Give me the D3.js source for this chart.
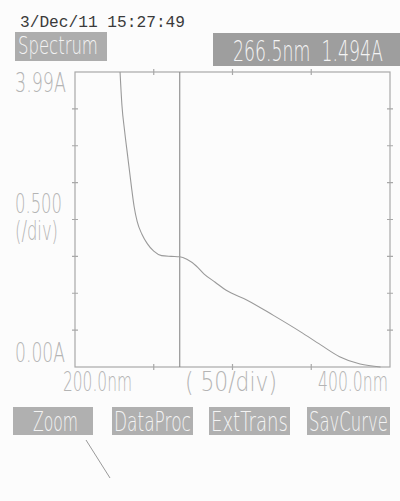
<!DOCTYPE html>
<html>
<head>
<meta charset="utf-8">
<script src="https://cdn.jsdelivr.net/npm/d3@7"></script>
<style>
  body { margin: 0; background: #fcfcfc; }
  svg { display: block; }
  .lbl { font-family: "DejaVu Sans", sans-serif; font-weight: 200; fill: #b4b4b4; white-space: pre; }
  .btn { font-family: "DejaVu Sans", sans-serif; font-weight: 200; fill: #f4f4f4; white-space: pre; }
</style>
</head>
<body>
<div id="wrapper"></div>
<script>
// spectrum, wavelength (nm) vs absorbance (A)
const wavelengths = [228.6, 229.8, 231.5, 233.5, 235.8, 237.5, 239.5, 242.5, 246, 250, 255, 261, 266.5,
                     271, 277, 282, 289, 296, 309, 326, 343, 356, 368, 381, 394]
const absorbance  = [4.00, 3.55, 3.20, 2.85, 2.45, 2.18, 1.97, 1.80, 1.67, 1.57, 1.51, 1.50, 1.494,
                     1.46, 1.37, 1.26, 1.15, 1.04, 0.91, 0.70, 0.48, 0.30, 0.14, 0.04, 0.00]
const xTicks = [250, 300, 350]
const yTicks = [0.5, 1, 1.5, 2, 2.5, 3, 3.5]
const cursorNm = 266.5
const stamp = "3/Dec/11 15:27:49"
const readout = "266.5nm  1.494A"
const buttons = ["Zoom", "DataProc", "ExtTrans", "SavCurve"]

const data = wavelengths.map((w, i) => ({w, a: absorbance[i]}))

let dimensions = {
    width: 400,
    height: 501,
    margin: {top: 72, right: 10, bottom: 134, left: 75},
}
dimensions.boundedWidth = dimensions.width - dimensions.margin.left - dimensions.margin.right
dimensions.boundedHeight = dimensions.height - dimensions.margin.top - dimensions.margin.bottom

const svg = d3.select("#wrapper")
              .append("svg")
              .attr("width", dimensions.width)
              .attr("height", dimensions.height)

const xScale = d3.scaleLinear()
                 .domain([200, 400])
                 .range([dimensions.margin.left, dimensions.margin.left + dimensions.boundedWidth])

const yScale = d3.scaleLinear()
                 .domain([0, 4])
                 .range([dimensions.margin.top + dimensions.boundedHeight, dimensions.margin.top])

const [x0, x1] = xScale.range()
const [y0, y1] = yScale.range()

// tall narrow instrument font: draw small, then stretch to the box it fills
// (several lines go in one text element as tspans)
const BASE = 14
function fitText(cls, x, baseline, w, cap, lines, lineGap) {
    lines = [].concat(lines)
    const el = svg.append("text").attr("class", cls)
                  .style("font-size", BASE + "px")
    const sy = cap / (0.73 * BASE)
    lines.forEach((t, i) => {
        el.append("tspan").attr("x", 0).attr("y", i * (lineGap || 0) / sy).text(t)
    })
    const len = d3.max(el.selectAll("tspan").nodes(), n => n.getComputedTextLength())
    const sx = w / len
    el.attr("transform", `translate(${x},${baseline}) scale(${sx},${sy})`)
    return el
}

// header
svg.append("text")
   .attr("x", 20).attr("y", 27)
   .attr("textLength", 165).attr("lengthAdjust", "spacingAndGlyphs")
   .style("font-family", "Liberation Mono, monospace")
   .style("font-size", "17px")
   .style("fill", "#3a3a3a")
   .text(stamp)

svg.append("rect").attr("x", 15).attr("y", 32).attr("width", 92).attr("height", 29).attr("fill", "#adadad")
fitText("btn", 18, 54, 80, 18, "Spectrum")

svg.append("rect").attr("x", 213).attr("y", 33).attr("width", 187).attr("height", 33).attr("fill", "#9e9e9e")
fitText("btn", 233, 61, 150, 21, readout)

// frame + ticks
const frame = svg.append("g").attr("stroke", "#a8a8a8").attr("stroke-width", 1.2).attr("fill", "none")
frame.append("rect").attr("x", x0).attr("y", y1).attr("width", x1 - x0).attr("height", y0 - y1)

frame.selectAll(".yt").data(yTicks).join("path")
     .attr("d", d => `M${x0 - 3},${yScale(d)}H${x0 + 3}M${x1 - 3},${yScale(d)}H${x1 + 3}`)
frame.selectAll(".xt").data(xTicks).join("path")
     .attr("d", d => `M${xScale(d)},${y1 - 3}V${y1 + 3}M${xScale(d)},${y0 - 3}V${y0 + 3}`)

// cursor
svg.append("line")
   .attr("x1", xScale(cursorNm)).attr("x2", xScale(cursorNm))
   .attr("y1", y1).attr("y2", y0)
   .attr("stroke", "#8a8a8a").attr("stroke-width", 1.1)

// curve
const line = d3.line()
               .x(d => xScale(d.w))
               .y(d => yScale(d.a))
               .curve(d3.curveMonotoneX)

svg.append("path")
   .datum(data)
   .attr("d", line)
   .attr("fill", "none")
   .attr("stroke", "#9a9a9a")
   .attr("stroke-width", 1.1)

// axis labels
fitText("lbl", 15, 92, 51, 19, "3.99A")
fitText("lbl", 15, 213, 47, 19, ["0.500", "(/div)"], 27)
fitText("lbl", 15, 362, 50, 19, "0.00A")
fitText("lbl", 63, 391, 69, 19, "200.0nm")
fitText("lbl", 185, 391, 92, 19, "( 50/div)")
fitText("lbl", 318, 391, 70, 19, "400.0nm")

// soft keys
const keyX = [13, 112, 209, 307]
const keyW = [80, 81, 81, 83]
const keys = svg.append("g")
keys.selectAll("rect").data(buttons).join("rect")
    .attr("x", (d, i) => keyX[i]).attr("y", 407)
    .attr("width", (d, i) => keyW[i]).attr("height", 28)
    .attr("fill", "#b0b0b0")
buttons.forEach((b, i) => {
    const tx = i === 0 ? 33 : keyX[i] + 2
    const tw = i === 0 ? 45 : keyW[i] - 4
    fitText("btn", tx, 431, tw, 20, b)
})

// pen stroke on the printout
svg.append("line")
   .attr("x1", 86).attr("y1", 440).attr("x2", 110).attr("y2", 478)
   .attr("stroke", "#9a9a9a").attr("stroke-width", 1)
</script>
</body>
</html>
